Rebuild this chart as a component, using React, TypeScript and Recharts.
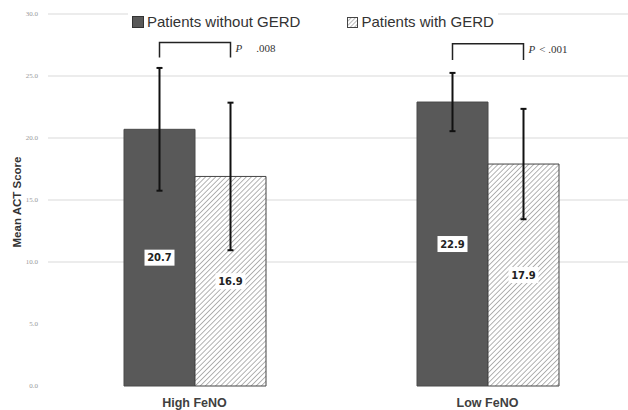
import { useEffect, useState } from "react";
import { BarChart, Bar, XAxis, YAxis, ReferenceLine, ErrorBar, LabelList } from "recharts";

const categories = ["High FeNO", "Low FeNO"];
const withoutGerd = [20.7, 22.9];
const withGerd = [16.9, 17.9];
const withoutSd = [4.95, 2.35];
const withSd = [5.95, 4.45];
const yTicks = [0, 5, 10, 15, 20, 25, 30];
const gridValues = [10, 15, 20, 25, 30];
// bracket levels (in score units) and p-value text per category
const bracketTop = [27.7, 27.6];
const bracketLeg = [26.5, 26.3];
const pValues = [".008", "< .001"];

const data = categories.map((name, i) => ({
  name,
  without: withoutGerd[i],
  withG: withGerd[i],
  sdWithout: withoutSd[i],
  sdWith: withSd[i],
}));

const ValueBox = (props: any) => {
  const { x, y, width, height, value } = props;
  const cx = x + width / 2;
  const cy = y + height / 2;
  return (
    <g>
      <rect x={cx - 15} y={cy - 8} width={30} height={16} fill="#fff" />
      <text x={cx} y={cy} textAnchor="middle" dominantBaseline="central" fontFamily="DejaVu Sans" fontWeight="bold" fontSize={10} fill="#222">
        {Number(value).toFixed(1)}
      </text>
    </g>
  );
};

const Bracket = (props: any) => {
  const { x, y, width, height, value, index } = props;
  const perUnit = height / value;
  const base = y + height;
  const top = base - bracketTop[index] * perUnit;
  const leg = base - bracketLeg[index] * perUnit;
  const x1 = x + width / 2;
  const x2 = x + width * 1.5;
  return (
    <g>
      <path d={`M${x1},${leg}V${top}H${x2}V${leg}`} fill="none" stroke="#222" strokeWidth={1.5} />
      <text x={x2 + 5} y={top + 9} fontFamily="Liberation Serif" fontSize={11} fill="#333">
        <tspan fontStyle="italic">P</tspan>
        <tspan dx={index === 0 ? 14 : 4}>{pValues[index]}</tspan>
      </text>
    </g>
  );
};

const HatchIcon = () => (
  <svg width={11} height={11} style={{ marginRight: 3 }}>
    <defs>
      <pattern id="hatchIcon" width={3} height={3} patternUnits="userSpaceOnUse" patternTransform="rotate(45)">
        <line x1={0} y1={0} x2={0} y2={3} stroke="#777" strokeWidth={1} />
      </pattern>
    </defs>
    <rect x={0.5} y={0.5} width={10} height={10} fill="url(#hatchIcon)" stroke="#444" />
  </svg>
);

const LegendBox = () => (
  <div style={{ position: "absolute", top: 13, left: 128, display: "flex", alignItems: "center", background: "#fff", fontFamily: "Liberation Sans, Arial", fontSize: 15, color: "#333", padding: "0 4px", lineHeight: "18px" }}>
    <span style={{ display: "inline-block", width: 10, height: 10, background: "#595959", border: "1px solid #333", marginRight: 3 }} />
    <span>Patients without GERD</span>
    <span style={{ width: 47 }} />
    <HatchIcon />
    <span>Patients with GERD</span>
  </div>
);

const YLabel = () => (
  <text x={21} y={202} transform="rotate(-90 21 202)" textAnchor="middle" fontFamily="Liberation Sans" fontWeight="bold" fontSize={11.5} fill="#333">
    Mean ACT Score
  </text>
);

export default function App() {
  // one extra render after mount so the layered parts (gridlines) get drawn
  const [, setReady] = useState(0);
  useEffect(() => {
    setReady(1);
    const t = setTimeout(() => setReady(2), 30);
    return () => clearTimeout(t);
  }, []);

  return (
    <div style={{ position: "absolute", left: 0, top: 0, width: 628, height: 410, overflow: "hidden", background: "#fff" }}>
      <BarChart width={640} height={410} data={data} margin={{ top: 14, right: 6, left: 0, bottom: 0 }} barCategoryGap={76} barGap={0}>
        <defs>
          <pattern id="hatch" width={3.6} height={3.6} patternUnits="userSpaceOnUse" patternTransform="rotate(45)">
            <rect width={3.6} height={3.6} fill="#fff" />
            <line x1={0} y1={0} x2={0} y2={3.6} stroke="#9a9a9a" strokeWidth={1.5} />
          </pattern>
        </defs>
        {gridValues.map((v) => (
          <ReferenceLine key={v} y={v} stroke="#d9d9d9" strokeWidth={1} zIndex={100} />
        ))}
        <XAxis
          dataKey="name"
          axisLine={false}
          tickLine={false}
          height={24}
          tick={{ fontFamily: "Liberation Sans", fontWeight: "bold", fontSize: 12.5, fill: "#404040" }}
          dy={4}
        />
        <YAxis
          width={48}
          domain={[0, 30]}
          ticks={yTicks}
          axisLine={false}
          tickLine={false}
          tickFormatter={(v) => Number(v).toFixed(1)}
          tick={{ fontFamily: "Liberation Serif", fontSize: 7, fill: "#999" }}
          tickMargin={4}
          label={<YLabel />}
        />
        <Bar dataKey="without" fill="#595959" stroke="#4a4a4a" strokeWidth={1} isAnimationActive={false}>
          <ErrorBar dataKey="sdWithout" stroke="#111" strokeWidth={2} width={3} />
          <LabelList dataKey="without" content={<ValueBox />} />
          <LabelList dataKey="without" content={<Bracket />} />
        </Bar>
        <Bar dataKey="withG" fill="url(#hatch)" stroke="#444" strokeWidth={1} isAnimationActive={false}>
          <ErrorBar dataKey="sdWith" stroke="#111" strokeWidth={2} width={3} />
          <LabelList dataKey="withG" content={<ValueBox />} />
        </Bar>
      </BarChart>
      <LegendBox />
    </div>
  );
}
